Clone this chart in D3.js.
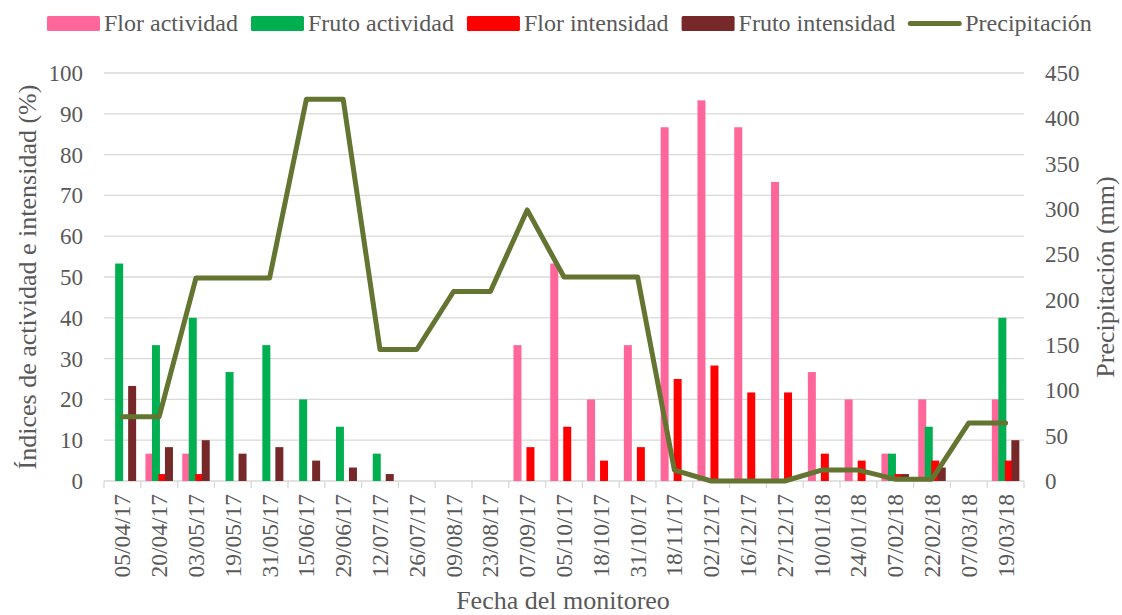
<!DOCTYPE html>
<html><head><meta charset="utf-8">
<script src="https://cdn.jsdelivr.net/npm/d3@7"></script>
<style>body{margin:0;background:#fff}svg{display:block}</style>
</head><body><svg id="c" width="1122" height="615"></svg>
<script>
const categories = ["05/04/17","20/04/17","03/05/17","19/05/17","31/05/17","15/06/17","29/06/17","12/07/17","26/07/17","09/08/17","23/08/17","07/09/17","05/10/17","18/10/17","31/10/17","18/11/17","02/12/17","16/12/17","27/12/17","10/01/18","24/01/18","07/02/18","22/02/18","07/03/18","19/03/18"];
const florActividad = [0,6.7,6.7,0,0,0,0,0,0,0,0,33.3,53.3,20,33.3,86.7,93.3,86.7,73.3,26.7,20,6.7,20,0,20];
const frutoActividad = [53.3,33.3,40,26.7,33.3,20,13.3,6.7,0,0,0,0,0,0,0,0,0,0,0,0,0,6.7,13.3,0,40];
const florIntensidad = [0,1.7,1.7,0,0,0,0,0,0,0,0,8.3,13.3,5,8.3,25,28.3,21.7,21.7,6.7,5,1.7,5,0,5];
const frutoIntensidad = [23.3,8.3,10,6.7,8.3,5,3.3,1.7,0,0,0,0,0,0,0,0,0,0,0,0,0,1.7,3.3,0,10];
const precipitacion = [71,71,224,224,224,421,421,145,145,209,209,299,225,225,225,12,0,0,0,12,12,2,2,64,64];
const leftTicks = [0,10,20,30,40,50,60,70,80,90,100];
const rightTicks = [0,50,100,150,200,250,300,350,400,450];
const seriesNames = ["Flor actividad","Fruto actividad","Flor intensidad","Fruto intensidad","Precipitación"];
const colors = ["#FF6699","#00B050","#FF0000","#772828","#637531"];

const svg = d3.select("#c");
const font = "'Liberation Serif','Times New Roman',serif";
const txt = "#595959";
const L = 104, R = 1024, T = 73, B = 481;

const x = d3.scaleBand().domain(categories).range([L, R]).padding(0);
const y = d3.scaleLinear().domain([0,100]).range([B, T]);
const y2 = d3.scaleLinear().domain([0,450]).range([B, T]);

// gridlines
svg.append("g").selectAll("line").data(leftTicks).join("line")
  .attr("x1", L).attr("x2", R).attr("y1", d=>y(d)).attr("y2", d=>y(d))
  .attr("stroke", "#d9d9d9").attr("stroke-width", 1.3);

// x axis ticks
const xa = svg.append("g").attr("transform", `translate(0,${B})`)
  .call(d3.axisBottom(x).tickSize(0).tickFormat(""));
xa.select(".domain").remove();
svg.append("g").selectAll("line").data(d3.range(categories.length+1)).join("line")
  .attr("x1", i=>L + i*x.step()).attr("x2", i=>L + i*x.step())
  .attr("y1", B).attr("y2", B+7).attr("stroke", "#d9d9d9").attr("stroke-width", 1.3);

// x labels
svg.append("g").selectAll("text").data(categories).join("text")
  .attr("transform", d=>`translate(${x(d)+x.bandwidth()/2+8},${B+13}) rotate(-90)`)
  .attr("text-anchor","end").attr("font-family",font).attr("font-size",23.5).attr("fill",txt)
  .text(d=>d);

// left axis labels
svg.append("g").selectAll("text").data(leftTicks).join("text")
  .attr("x", 83).attr("y", d=>y(d)+8).attr("text-anchor","end")
  .attr("font-family",font).attr("font-size",23).attr("fill",txt).text(d=>d);
// right axis labels
svg.append("g").selectAll("text").data(rightTicks).join("text")
  .attr("x", 1045).attr("y", d=>y2(d)+8).attr("text-anchor","start")
  .attr("font-family",font).attr("font-size",23).attr("fill",txt).text(d=>d);

// bars
const bw = 8, stepB = 6.5;
const series = [florActividad, frutoActividad, florIntensidad, frutoIntensidad];
const total = stepB*3 + bw;
series.forEach((s, si) => {
  svg.append("g").selectAll("rect").data(s.map((v,i)=>({v, c:categories[i]}))).join("rect")
    .attr("x", d=>x(d.c)+x.bandwidth()/2 - total/2 + si*stepB)
    .attr("width", bw)
    .attr("y", d=>y(d.v)).attr("height", d=>B - y(d.v))
    .attr("fill", colors[si]);
});

// line
const line = d3.line().x((d,i)=>x(categories[i])+x.bandwidth()/2).y(d=>y2(d));
svg.append("path").datum(precipitacion).attr("d", line)
  .attr("fill","none").attr("stroke",colors[4]).attr("stroke-width",5)
  .attr("stroke-linejoin","round").attr("stroke-linecap","round");

// axis titles
svg.append("text").attr("transform","translate(36,277) rotate(-90)").attr("text-anchor","middle")
  .attr("font-family",font).attr("font-size",26).attr("fill",txt).text("Índices de actividad e intensidad (%)");
svg.append("text").attr("transform","translate(1114,277) rotate(-90)").attr("text-anchor","middle")
  .attr("font-family",font).attr("font-size",26).attr("fill",txt).text("Precipitación (mm)");
svg.append("text").attr("x",563).attr("y",609).attr("text-anchor","middle")
  .attr("font-family",font).attr("font-size",26).attr("fill",txt).text("Fecha del monitoreo");

// legend
let lx = 47;
const lg = svg.append("g");
seriesNames.forEach((n, i) => {
  if (i < 4) {
    lg.append("rect").attr("x", lx).attr("y", 16).attr("width", 53).attr("height", 15)
      .attr("rx",1.5).attr("fill", colors[i]);
  } else {
    lg.append("line").attr("x1", lx+2).attr("x2", lx+51).attr("y1", 23.5).attr("y2", 23.5)
      .attr("stroke", colors[i]).attr("stroke-width", 5).attr("stroke-linecap","round");
  }
  const t = lg.append("text").attr("x", lx+57).attr("y", 31).attr("font-family",font)
    .attr("font-size",24).attr("fill",txt).text(n);
  lx += 57 + t.node().getComputedTextLength() + 13;
});
</script></body></html>
